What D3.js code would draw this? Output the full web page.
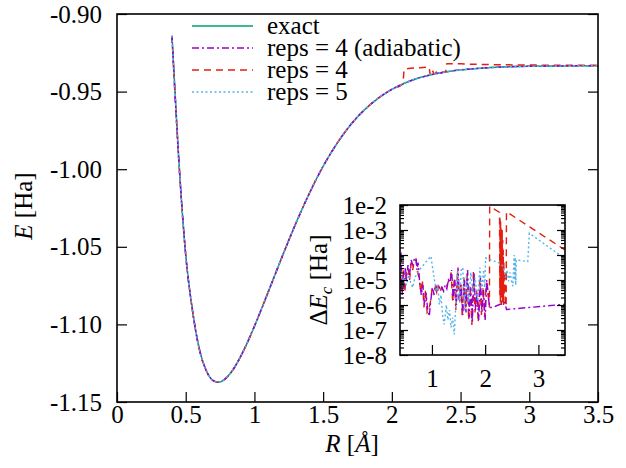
<!DOCTYPE html>
<html>
<head>
<meta charset="utf-8">
<script src="https://cdn.jsdelivr.net/npm/d3@7"></script>
<style>
body { margin: 0; background: #fff; }
svg text { font-family: 'Liberation Serif', 'Times New Roman', Tinos, 'Nimbus Roman', 'Nimbus Roman No9 L', 'Noto Serif', FreeSerif, 'DejaVu Serif', serif; font-size: 25px; fill: #000; }
</style>
</head>
<body>
<div id="viewer"></div>
<script>
// ---- main plot: H2 energy curve ----
const mainR = [0.40, 0.45, 0.50, 0.55, 0.60, 0.65, 0.70, 0.74, 0.80, 0.85, 0.90, 0.95, 1.00, 1.10, 1.20,
    1.30, 1.40, 1.50, 1.60, 1.70, 1.80, 1.90, 2.00, 2.10, 2.20, 2.30, 2.40, 2.50, 2.60, 2.70, 2.80,
    2.90, 3.00, 3.20, 3.50];
const eExact = [-0.9141, -0.9945, -1.0551, -1.0915, -1.1163, -1.1299, -1.1362, -1.1373, -1.1341, -1.1284,
    -1.1206, -1.1114, -1.1012, -1.0792, -1.0567, -1.0352, -1.0155, -0.9981, -0.9835, -0.9714, -0.9618,
    -0.9543, -0.9486, -0.9443, -0.9411, -0.9388, -0.9372, -0.9360, -0.9352, -0.9346, -0.9342, -0.9339,
    -0.9337, -0.9335, -0.9333];
// adiabatic and reps = 5 stay within ~1e-4 Ha of exact: below a pixel here
const eAdiabatic = eExact;
const eReps5 = eExact;
// reps = 4 leaves the curve after R = 2.08
const reps4R = [0.40, 0.45, 0.50, 0.55, 0.60, 0.65, 0.70, 0.74, 0.80, 0.85, 0.90, 0.95, 1.00, 1.10, 1.20,
    1.30, 1.40, 1.50, 1.60, 1.70, 1.80, 1.90, 2.00, 2.08, 2.09, 2.20, 2.27, 2.28, 2.29, 2.31, 2.33,
    2.35, 2.37, 2.39, 2.40, 2.50, 2.60, 2.80, 3.00, 3.50];
const eReps4 = [-0.9141, -0.9945, -1.0551, -1.0915, -1.1163, -1.1299, -1.1362, -1.1373, -1.1341, -1.1284,
    -1.1206, -1.1114, -1.1012, -1.0792, -1.0567, -1.0352, -1.0155, -0.9981, -0.9835, -0.9714, -0.9618,
    -0.9543, -0.9486, -0.9451, -0.9357, -0.9346, -0.9343, -0.9392, -0.9360, -0.9386, -0.9370,
    -0.9382, -0.9376, -0.9374, -0.9320, -0.9321, -0.9324, -0.9327, -0.9329, -0.9331];

const xTicks = [0, 0.5, 1, 1.5, 2, 2.5, 3, 3.5];
const yTicks = [-1.15, -1.10, -1.05, -1.00, -0.95, -0.90];

// ---- inset: log10 of Delta E_c [Ha] ----
const insetAdiabatic = [[0.40, -4.6], [0.42, -3.9], [0.44, -5.6], [0.46, -4.8], [0.48, -5.3], [0.50, -4.5],
    [0.52, -5.0], [0.55, -4.4], [0.58, -4.8], [0.61, -4.2], [0.64, -4.4], [0.67, -4.15], [0.70, -4.1],
    [0.72, -4.6], [0.74, -4.3], [0.77, -5.1], [0.80, -5.6], [0.83, -5.2], [0.86, -6.0], [0.89, -5.5],
    [0.92, -6.2], [0.95, -6.45], [0.98, -5.8], [1.01, -5.3], [1.04, -5.6], [1.07, -5.2], [1.10, -5.4],
    [1.13, -5.25], [1.16, -5.4], [1.19, -5.3], [1.22, -5.45], [1.25, -5.2], [1.28, -5.35], [1.31, -5.0],
    [1.34, -5.1], [1.37, -4.6], [1.40, -5.8], [1.43, -5.0], [1.46, -6.0], [1.49, -4.5], [1.52, -5.9],
    [1.55, -5.2], [1.58, -6.4], [1.61, -5.0], [1.64, -6.3], [1.67, -4.6], [1.70, -6.5], [1.73, -5.3],
    [1.76, -6.7], [1.79, -4.7], [1.82, -6.2], [1.85, -5.5], [1.88, -6.6], [1.91, -4.9], [1.94, -6.3],
    [1.97, -5.4], [2.00, -6.6], [2.03, -5.0], [2.06, -5.6], [2.08, -6.1], [2.14, -6.1], [2.25, -6.0],
    [2.37, -5.9], [2.40, -6.18], [3.50, -5.97]];
const insetReps4 = [[0.40, -4.3], [0.43, -5.4], [0.46, -4.6], [0.49, -5.5], [0.52, -4.7], [0.55, -4.5],
    [0.58, -5.0], [0.61, -4.3], [0.64, -4.6], [0.67, -4.2], [0.70, -4.2], [0.73, -4.7], [0.76, -4.9],
    [0.79, -5.5], [0.82, -5.0], [0.85, -6.1], [0.88, -5.4], [0.91, -6.3], [0.94, -6.2], [0.97, -5.9],
    [1.00, -5.4], [1.03, -5.5], [1.06, -5.3], [1.09, -5.5], [1.12, -5.2], [1.15, -5.5], [1.18, -5.3],
    [1.21, -5.4], [1.24, -5.3], [1.27, -5.3], [1.30, -5.1], [1.33, -5.0], [1.36, -4.7], [1.39, -5.9],
    [1.42, -4.9], [1.45, -6.2], [1.48, -4.6], [1.51, -5.8], [1.54, -5.1], [1.57, -6.5], [1.60, -4.9],
    [1.63, -6.2], [1.66, -4.7], [1.69, -6.6], [1.72, -5.2], [1.75, -6.8], [1.78, -4.6], [1.81, -6.3],
    [1.84, -5.4], [1.87, -6.7], [1.90, -5.0], [1.93, -6.4], [1.96, -5.3], [1.99, -6.5], [2.02, -5.1],
    [2.05, -5.5], [2.08, -6.1], [2.085, -2.05], [2.27, -2.3], [2.275, -5.6], [2.28, -2.5], [2.285, -5.9],
    [2.29, -2.6], [2.295, -5.4], [2.30, -2.9], [2.305, -6.0], [2.31, -3.2], [2.315, -5.7], [2.32, -3.0],
    [2.325, -5.9], [2.33, -3.4], [2.335, -5.8], [2.34, -3.8], [2.345, -6.0], [2.35, -4.2], [2.36, -5.6],
    [2.37, -4.6], [2.38, -6.0], [2.395, -6.05], [2.40, -2.27], [3.50, -3.8]];
const insetReps5 = [[0.40, -4.3], [0.44, -5.0], [0.48, -4.9], [0.52, -5.2], [0.56, -4.8], [0.60, -5.1],
    [0.64, -5.3], [0.68, -4.9], [0.73, -4.72], [0.80, -4.5], [0.88, -4.3], [0.98, -4.05], [1.08, -5.45],
    [1.11, -5.2], [1.14, -5.98], [1.17, -5.6], [1.20, -6.4], [1.23, -6.78], [1.27, -6.0], [1.30, -6.6],
    [1.33, -6.2], [1.36, -6.9], [1.39, -6.5], [1.42, -7.18], [1.48, -4.66], [1.52, -5.9], [1.55, -4.6],
    [1.58, -4.5], [1.61, -6.25], [1.65, -4.8], [1.69, -5.9], [1.73, -4.7], [1.77, -5.5], [1.81, -4.9],
    [1.86, -5.85], [1.90, -4.5], [1.94, -5.4], [1.97, -4.6], [1.99, -5.3], [2.01, -4.12], [2.27, -4.32],
    [2.34, -4.45], [2.38, -4.9], [2.41, -4.6], [2.44, -5.05], [2.47, -4.7], [2.50, -5.1], [2.52, -5.25],
    [2.545, -4.0], [2.555, -5.0], [2.565, -4.1], [2.575, -5.2], [2.585, -4.2], [2.80, -4.26],
    [2.83, -3.13], [3.50, -4.15]];
const insetXTicks = [1, 2, 3];
const insetYTicks = [1e-8, 1e-7, 1e-6, 1e-5, 1e-4, 1e-3, 1e-2];

const legendLabels = ['exact', 'reps = 4 (adiabatic)', 'reps = 4', 'reps = 5'];

// styles (gnuplot default palette)
const styles = {
    exact: { color: '#009e73', dash: null },
    adiabatic: { color: '#9400d3', dash: '7,3,2,3' },
    reps4: { color: '#e51e10', dash: '7,5' },
    reps5: { color: '#56b4e9', dash: '2,2.5' }
};

const svg = d3.select('#viewer').append('svg')
    .attr('width', 626)
    .attr('height', 468);

const x = d3.scaleLinear().domain([0, 3.5]).range([117, 598]);
const y = d3.scaleLinear().domain([-1.15, -0.90]).range([402, 14]);

svg.append('clipPath').attr('id', 'mainClip')
    .append('rect').attr('x', 117).attr('y', 14).attr('width', 481).attr('height', 388);

const mainLine = d3.line().x(d => x(d[0])).y(d => y(d[1])).curve(d3.curveMonotoneX);
const zip = (a, b) => a.map((v, i) => [v, b[i]]);

const mainSeries = [
    { data: zip(mainR, eExact), s: styles.exact },
    { data: zip(reps4R, eReps4), s: styles.reps4 },
    { data: zip(mainR, eAdiabatic), s: styles.adiabatic },
    { data: zip(mainR, eReps5), s: styles.reps5 }
];
const mainG = svg.append('g').attr('clip-path', 'url(#mainClip)');
mainSeries.forEach(ser => {
    mainG.append('path')
        .attr('d', mainLine(ser.data))
        .attr('fill', 'none')
        .attr('stroke', ser.s.color)
        .attr('stroke-width', 1.5)
        .attr('stroke-dasharray', ser.s.dash);
});

// main axes
svg.append('g').attr('transform', 'translate(0,402)')
    .call(d3.axisBottom(x).tickValues(xTicks).tickSize(-10).tickSizeOuter(0).tickPadding(3)
        .tickFormat(d => String(d)));
svg.append('g').attr('transform', 'translate(117,0)')
    .call(d3.axisLeft(y).tickValues(yTicks).tickSize(-10).tickSizeOuter(0).tickPadding(15)
        .tickFormat(d => d.toFixed(2)));
svg.append('g').attr('transform', 'translate(598,0)')
    .call(d3.axisRight(y).tickValues(yTicks).tickSize(-10).tickSizeOuter(0).tickFormat(''));
svg.selectAll('.domain').remove();
svg.selectAll('.tick line').attr('stroke', '#000').attr('stroke-width', 1.2);
svg.selectAll('g').attr('font-family', null).attr('font-size', null);

svg.append('rect').attr('x', 117).attr('y', 14).attr('width', 481).attr('height', 388)
    .attr('fill', 'none').attr('stroke', '#000').attr('stroke-width', 1.6);

// axis titles
const yl = svg.append('text').attr('transform', 'translate(32,206) rotate(-90)').attr('text-anchor', 'middle');
yl.append('tspan').attr('font-style', 'italic').text('E');
yl.append('tspan').text(' [Ha]');
const xl = svg.append('text').attr('x', 352).attr('y', 452).attr('text-anchor', 'middle');
xl.append('tspan').attr('font-style', 'italic').text('R');
xl.append('tspan').text(' [');
xl.append('tspan').attr('font-style', 'italic').text('Å');
xl.append('tspan').text(']');

// legend
const legendStyles = [styles.exact, styles.adiabatic, styles.reps4, styles.reps5];
const legendY = [26, 48, 70, 92];
legendLabels.forEach((lab, i) => {
    svg.append('line')
        .attr('x1', 192).attr('x2', 253).attr('y1', legendY[i]).attr('y2', legendY[i])
        .attr('stroke', legendStyles[i].color).attr('stroke-width', 1.5)
        .attr('stroke-dasharray', legendStyles[i].dash);
    svg.append('text').attr('x', 267).attr('y', legendY[i]).attr('dy', '0.33em').text(lab);
});

// ---- inset ----
const xi = d3.scaleLinear().domain([0.4, 3.5]).range([400, 565]);
const yi = d3.scaleLog().domain([1e-8, 1e-2]).range([355, 205]);

svg.append('rect').attr('x', 400).attr('y', 205).attr('width', 165).attr('height', 150).attr('fill', '#fff');
svg.append('clipPath').attr('id', 'insetClip')
    .append('rect').attr('x', 400).attr('y', 205).attr('width', 165).attr('height', 150);

const insetLine = d3.line().x(d => xi(d[0])).y(d => yi(Math.pow(10, d[1])));
const insetSeries = [
    { data: insetReps4, s: styles.reps4 },
    { data: insetAdiabatic, s: styles.adiabatic },
    { data: insetReps5, s: styles.reps5 }
];
const insetG = svg.append('g').attr('clip-path', 'url(#insetClip)');
insetSeries.forEach(ser => {
    insetG.append('path')
        .attr('d', insetLine(ser.data))
        .attr('fill', 'none')
        .attr('stroke', ser.s.color)
        .attr('stroke-width', 1.4)
        .attr('stroke-dasharray', ser.s.dash);
});

const minorTicks = [];
for (let e = -8; e < -2; e++) {
    for (let k = 2; k <= 9; k++) minorTicks.push(k * Math.pow(10, e));
}
const insetAxes = svg.append('g');
insetAxes.append('g').attr('transform', 'translate(0,355)')
    .call(d3.axisBottom(xi).tickValues(insetXTicks).tickSize(-10).tickSizeOuter(0).tickPadding(14)
        .tickFormat(d3.format('d')));
insetAxes.append('g').attr('transform', 'translate(400,0)')
    .call(d3.axisLeft(yi).tickValues(insetYTicks).tickSize(-8).tickSizeOuter(0).tickPadding(13)
        .tickFormat(d => '1e' + Math.round(Math.log10(d))));
insetAxes.append('g').attr('transform', 'translate(400,0)')
    .call(d3.axisLeft(yi).tickValues(minorTicks).tickSize(-4).tickSizeOuter(0).tickFormat(''));
insetAxes.append('g').attr('transform', 'translate(565,0)')
    .call(d3.axisRight(yi).tickValues(insetYTicks).tickSize(-8).tickSizeOuter(0).tickFormat(''));
insetAxes.append('g').attr('transform', 'translate(565,0)')
    .call(d3.axisRight(yi).tickValues(minorTicks).tickSize(-4).tickSizeOuter(0).tickFormat(''));
insetAxes.selectAll('.domain').remove();
insetAxes.selectAll('.tick line').attr('stroke', '#000').attr('stroke-width', 1.2);
insetAxes.selectAll('g').attr('font-family', null).attr('font-size', null);

svg.append('rect').attr('x', 400).attr('y', 205).attr('width', 165).attr('height', 150)
    .attr('fill', 'none').attr('stroke', '#000').attr('stroke-width', 1.6);

const il = svg.append('text').attr('transform', 'translate(327,280) rotate(-90)').attr('text-anchor', 'middle');
il.append('tspan').text('Δ');
il.append('tspan').attr('font-style', 'italic').text('E');
il.append('tspan').attr('font-style', 'italic').attr('font-size', '17px').attr('dy', '5').text('c');
il.append('tspan').attr('dy', '-5').text(' [Ha]');
</script>
</body>
</html>
